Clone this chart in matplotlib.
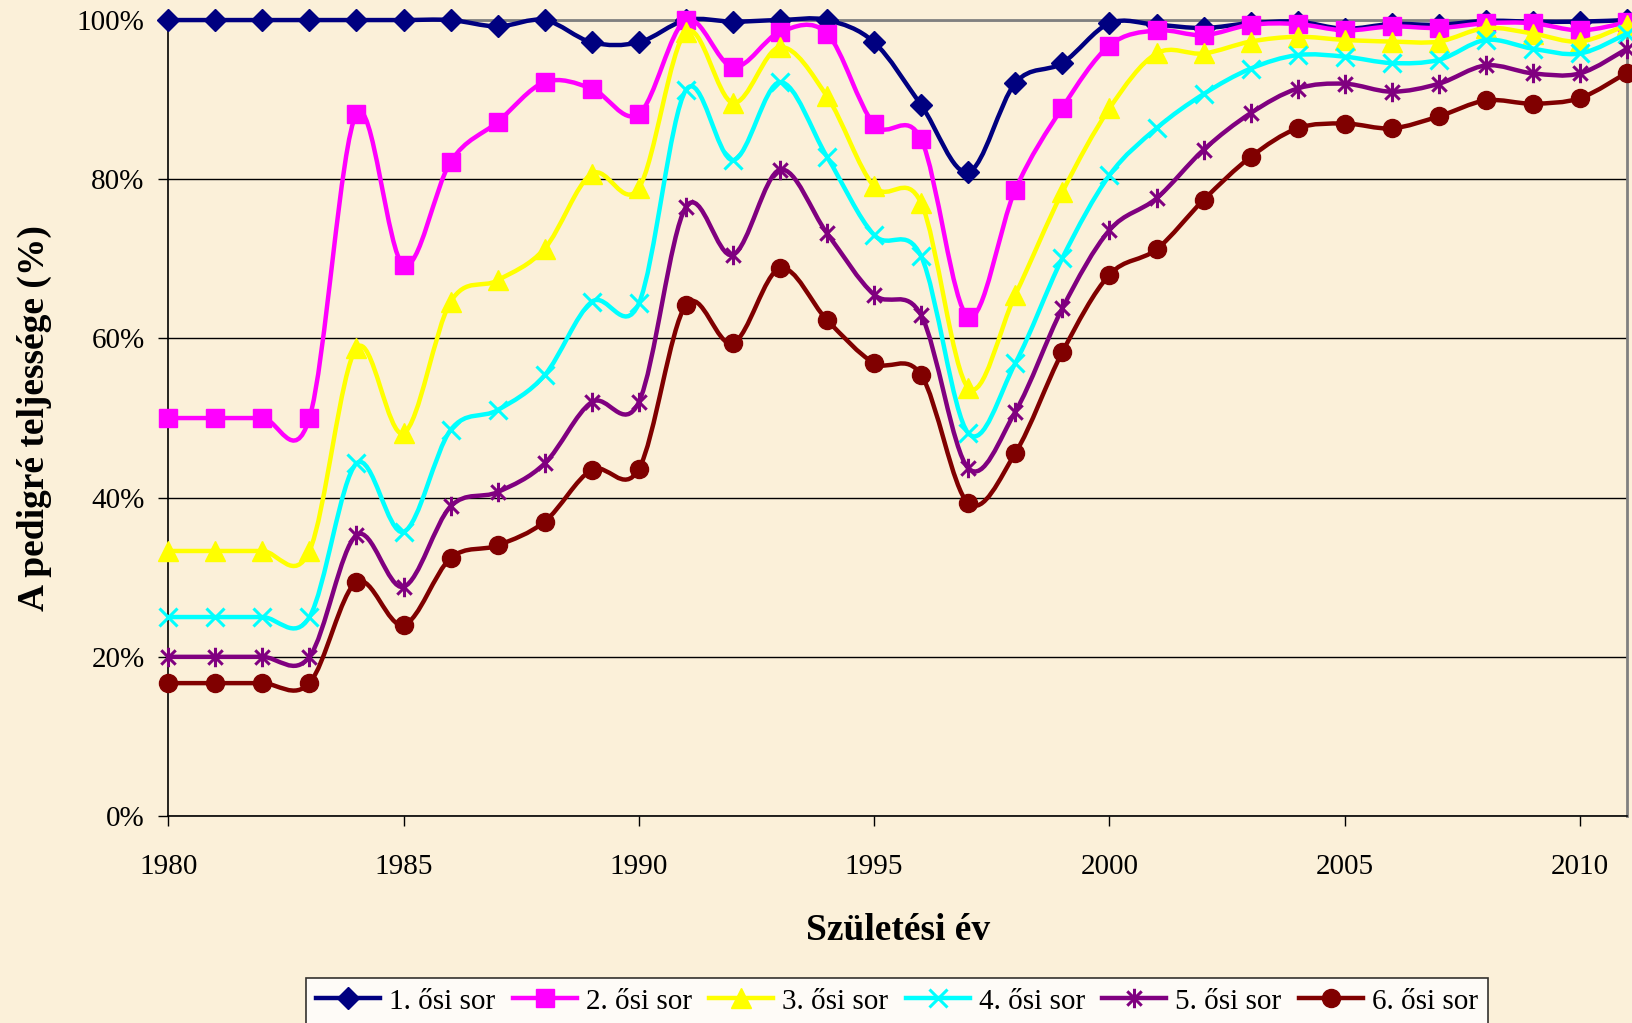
import numpy as np
import matplotlib
matplotlib.use("Agg")
import matplotlib.pyplot as plt
from matplotlib.path import Path
from matplotlib.patches import PathPatch
from matplotlib.lines import Line2D
from matplotlib.ticker import PercentFormatter, MultipleLocator

# data (in %)
years = list(range(1980, 2012))

sor1 = [100, 100, 100, 100, 100, 100, 100, 99.2, 100, 97.2, 97.2, 100, 99.8, 100, 100,
        97.2, 89.3, 80.9, 92.1, 94.6, 99.6, 99.4, 99.0, 99.6, 99.8, 98.9, 99.5, 99.4,
        99.9, 99.8, 99.8, 100]
sor2 = [50, 50, 50, 50, 88.2, 69.2, 82.2, 87.2, 92.2, 91.4, 88.2, 100, 94.1, 98.5, 98.3,
        86.9, 85.0, 62.7, 78.7, 89.0, 96.8, 98.7, 98.1, 99.4, 99.5, 98.7, 99.2, 99.0,
        99.6, 99.6, 98.7, 99.7]
sor3 = [33.3, 33.3, 33.3, 33.3, 58.8, 48.1, 64.6, 67.3, 71.3, 80.7, 78.9, 98.5, 89.6, 96.6,
        90.4, 79.1, 77.0, 53.8, 65.5, 78.4, 88.9, 95.8, 95.8, 97.3, 97.9, 97.5, 97.3,
        97.3, 99.0, 98.3, 97.3, 99.4]
sor4 = [25, 25, 25, 25, 44.3, 35.7, 48.5, 51.0, 55.4, 64.6, 64.4, 91.2, 82.4, 92.2, 82.8,
        73.0, 70.3, 48.1, 56.9, 70.1, 80.5, 86.4, 90.7, 93.9, 95.6, 95.4, 94.6, 95.0,
        97.5, 96.4, 95.8, 98.3]
sor5 = [20, 20, 20, 20, 35.3, 28.8, 38.9, 40.7, 44.3, 52.0, 52.0, 76.5, 70.5, 81.2, 73.2,
        65.5, 62.9, 43.7, 50.8, 63.8, 73.6, 77.6, 83.7, 88.3, 91.4, 92.0, 91.0, 92.0,
        94.3, 93.3, 93.3, 96.4]
sor6 = [16.7, 16.7, 16.7, 16.7, 29.4, 24.0, 32.4, 34.0, 37.0, 43.5, 43.6, 64.2, 59.4, 68.8,
        62.3, 56.9, 55.4, 39.3, 45.6, 58.3, 68.0, 71.2, 77.4, 82.8, 86.4, 87.0, 86.4,
        87.9, 89.9, 89.5, 90.2, 93.4]

labels = ["1. ősi sor", "2. ősi sor", "3. ősi sor", "4. ősi sor", "5. ősi sor", "6. ősi sor"]
series = [sor1, sor2, sor3, sor4, sor5, sor6]

# styles
colors = ["#000080", "#FF00FF", "#FFFF00", "#00FFFF", "#800080", "#800000"]
star = Path([(-1, -1), (1, 1), (-1, 1), (1, -1), (0, -1.35), (0, 1.35)],
            [Path.MOVETO, Path.LINETO, Path.MOVETO, Path.LINETO, Path.MOVETO, Path.LINETO])
markers = ["D", "s", "^", "x", star, "o"]
msizes = [11, 13, 14, 13, 14, 13]
mews = [1, 1, 1, 2.2, 2.2, 1]
bg = "#FBF0D9"

plt.rcParams["font.family"] = ["Liberation Serif", "DejaVu Serif"]


def smooth(xs, ys):
    # excel-like smoothed line: bezier segments with catmull-rom handles
    n = len(xs)
    verts = [(xs[0], ys[0])]
    codes = [Path.MOVETO]
    for i in range(n - 1):
        a = max(i - 1, 0)
        d = min(i + 2, n - 1)
        c1 = (xs[i] + (xs[i + 1] - xs[a]) / 6, ys[i] + (ys[i + 1] - ys[a]) / 6)
        c2 = (xs[i + 1] - (xs[d] - xs[i]) / 6, ys[i + 1] - (ys[d] - ys[i]) / 6)
        verts += [c1, c2, (xs[i + 1], ys[i + 1])]
        codes += [Path.CURVE4] * 3
    return Path(verts, codes)


fig = plt.figure(figsize=(16.32, 10.23), dpi=100, facecolor=bg)
ax = fig.add_axes([0.1031, 0.2023, 0.8939, 0.7781])
ax.set_facecolor(bg)

handles = []
for k, vals in enumerate(series):
    x = np.array(years, dtype=float)
    y = np.array(vals) / 100
    ax.add_patch(PathPatch(smooth(x, y), fill=False, edgecolor=colors[k], lw=3.2,
                           clip_on=False, zorder=3 + k, capstyle="round", joinstyle="round"))
    ax.plot(x, y, linestyle="none", marker=markers[k], ms=msizes[k], color=colors[k],
            mfc=colors[k], mec=colors[k], mew=mews[k], clip_on=False, zorder=3 + k)
    handles.append(Line2D([], [], color=colors[k], lw=3.2, marker=markers[k],
                          ms=msizes[k], mew=mews[k]))

ax.set_xlim(1980, 2011)
ax.set_ylim(0, 1)
ax.xaxis.set_major_locator(MultipleLocator(5))
ax.yaxis.set_major_locator(MultipleLocator(0.2))
ax.yaxis.set_major_formatter(PercentFormatter(1.0, decimals=0))
ax.grid(axis="y", color="black", lw=1)
ax.set_axisbelow(True)
ax.tick_params(axis="both", labelsize=21, length=7, width=1, direction="out")
ax.tick_params(axis="y", pad=10)
ax.tick_params(axis="x", pad=20)

for s in ["top", "right"]:
    ax.spines[s].set_color("#808080")
    ax.spines[s].set_linewidth(2)
for s in ["left", "bottom"]:
    ax.spines[s].set_color("black")
    ax.spines[s].set_linewidth(1.2)

ax.set_xlabel("Születési év", fontsize=27, fontweight="bold", labelpad=24)
ax.set_ylabel("A pedigré teljessége (%)", fontsize=27, fontweight="bold", labelpad=18)

leg = fig.legend(handles, labels, loc="upper center", bbox_to_anchor=(0.5496, 1 - 978 / 1023),
                 ncol=6, fontsize=21, frameon=True, fancybox=False, handlelength=2.2,
                 handletextpad=0.3, columnspacing=0.6, borderpad=0.35, borderaxespad=0)
leg.get_frame().set_facecolor("white")
leg.get_frame().set_edgecolor("black")
leg.get_frame().set_linewidth(1.2)

fig.savefig("out.png", dpi=100, facecolor=bg)
